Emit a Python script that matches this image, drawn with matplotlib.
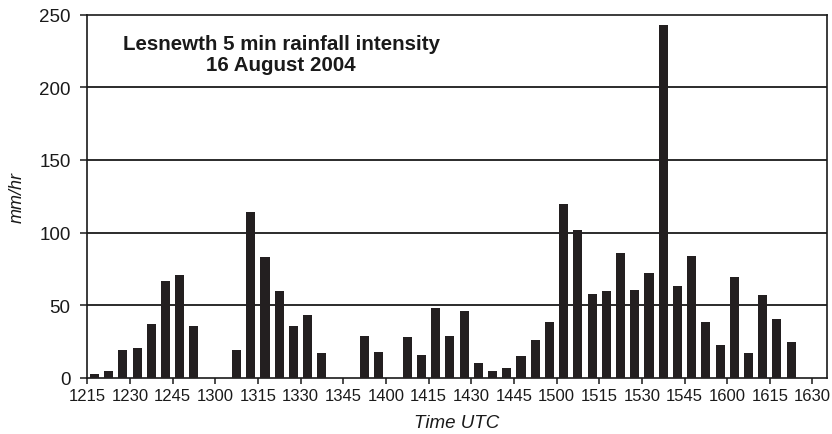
import matplotlib
matplotlib.use("Agg")
import matplotlib.pyplot as plt
import numpy as np

# 5-minute rainfall intensity (mm/hr), intervals starting at 1215 UTC
intensity = [2.5, 5, 19, 20.5, 37, 67, 70.5, 35.5, 0, 0,
             19, 114.5, 83.5, 59.5, 36, 43, 17.5, 0, 0, 29,
             18, 0, 28.5, 15.5, 48, 29, 46, 10, 5, 7,
             15, 26, 38.5, 120, 101.5, 57.5, 59.5, 86, 60.5, 72,
             243, 63, 84, 38.5, 23, 69.5, 17.5, 57, 40.5, 24.5, 0]
tick_labels = ["1215", "1230", "1245", "1300", "1315", "1330", "1345", "1400",
               "1415", "1430", "1445", "1500", "1515", "1530", "1545", "1600",
               "1615", "1630"]
y_ticks = [0, 50, 100, 150, 200, 250]
title_lines = ["Lesnewth 5 min rainfall intensity", "16 August 2004"]

plt.rcParams['font.family'] = ['Liberation Sans', 'DejaVu Sans']

fig = plt.figure(figsize=(8.32, 4.35), dpi=100)
ax = fig.add_axes([87.3 / 832, 1 - 379 / 435, (826.7 - 87.3) / 832, (379 - 15.5) / 435])

minutes = 5 * np.arange(len(intensity)) + 2.5
ax.bar(minutes, intensity, width=3.2, color="#231f20", edgecolor="none", zorder=3)

ax.set_xlim(0, 260)
ax.set_ylim(0, 250)
ax.set_xticks(15 * np.arange(len(tick_labels)))
ax.set_xticklabels(tick_labels)
ax.set_yticks(y_ticks)
for v in y_ticks[1:-1]:
    ax.axhline(v, color="#1a1a1a", lw=1.3, zorder=2)

for s in ax.spines.values():
    s.set_linewidth(1.2)
    s.set_color("#1a1a1a")

ax.tick_params(axis="x", direction="out", length=4, width=1.1, pad=3,
               labelsize=12, colors="#1a1a1a")
ax.tick_params(axis="y", direction="out", length=5, width=1.1, pad=7,
               labelsize=13.5, colors="#1a1a1a")

ax.set_xlabel("Time UTC", fontsize=13.5, style="italic", color="#1a1a1a", labelpad=8)
ax.set_ylabel("mm/hr", fontsize=13, style="italic", color="#1a1a1a", labelpad=10)

ax.text(68.2, 226.3, title_lines[0], ha="center", va="baseline",
        fontsize=14.8, fontweight="bold", color="#1a1a1a")
ax.text(68.2, 212.0, title_lines[1], ha="center", va="baseline",
        fontsize=14.8, fontweight="bold", color="#1a1a1a")

fig.savefig("out.png", dpi=100)
